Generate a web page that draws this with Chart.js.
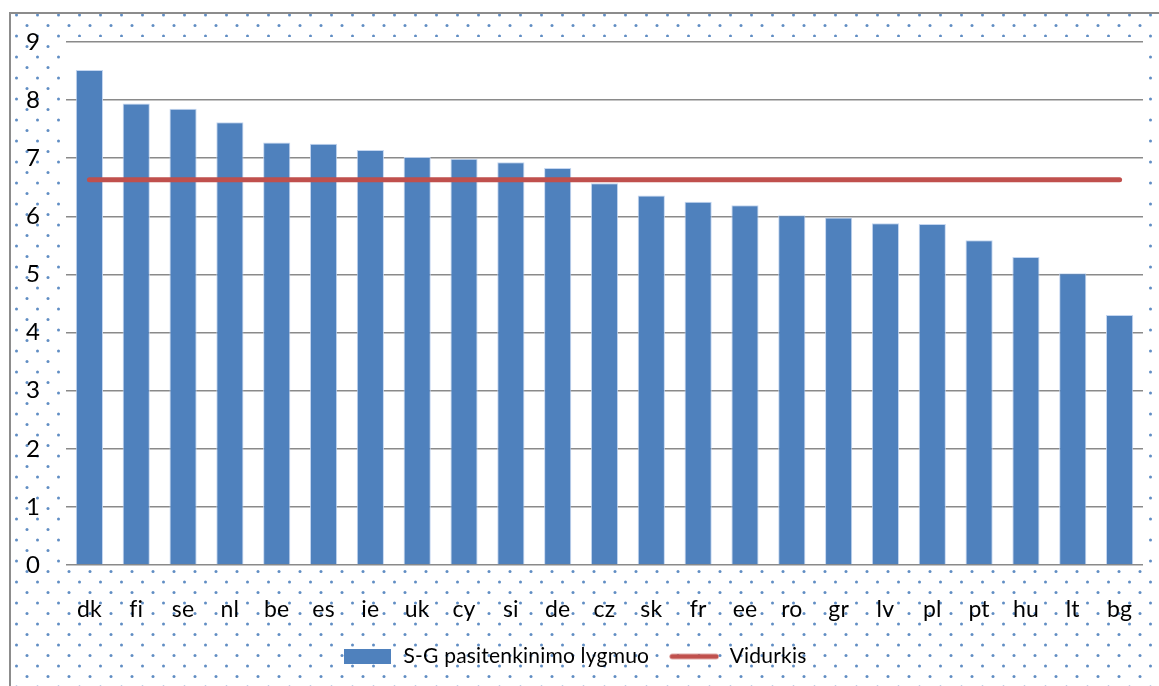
<!DOCTYPE html>
<html>
<head>
<meta charset="utf-8">
<script src="https://cdn.jsdelivr.net/npm/chart.js@4/dist/chart.umd.min.js"></script>
<style>
  html, body { margin: 0; padding: 0; background: #fff; }
  #wrap { width: 1159px; height: 686px; }
</style>
</head>
<body>
<div id="wrap"><canvas id="satChart" width="1159" height="686"></canvas></div>
<script>
// chart data
const countries = ['dk', 'fi', 'se', 'nl', 'be', 'es', 'ie', 'uk', 'cy', 'si', 'de', 'cz',
    'sk', 'fr', 'ee', 'ro', 'gr', 'lv', 'pl', 'pt', 'hu', 'lt', 'bg'];
const satisfaction = [8.52, 7.94, 7.85, 7.62, 7.27, 7.25, 7.14, 7.02, 6.99, 6.93, 6.83, 6.57,
    6.36, 6.25, 6.19, 6.02, 5.98, 5.88, 5.87, 5.59, 5.30, 5.02, 4.30];
const average = [6.63, 6.63, 6.63, 6.63, 6.63, 6.63, 6.63, 6.63, 6.63, 6.63, 6.63, 6.63,
    6.63, 6.63, 6.63, 6.63, 6.63, 6.63, 6.63, 6.63, 6.63, 6.63, 6.63];
const seriesNames = ['S-G pasitenkinimo lygmuo', 'Vidurkis'];
const yMin = 0, yMax = 9, yStep = 1;

const blue = '#4F81BD';
const red = '#C0504D';
const font = { family: 'Lato, "Open Sans", sans-serif', size: 21 };
const xFont = { family: 'Lato, "Open Sans", sans-serif', size: 23 };
const yFont = { family: 'Lato, "Open Sans", sans-serif', size: 24 };

// legend swatches
function swatch(w, h, paint) {
    const c = document.createElement('canvas');
    c.width = w; c.height = h;
    paint(c.getContext('2d'));
    return c;
}
const barSwatch = swatch(47, 15, g => { g.fillStyle = blue; g.fillRect(0, 0, 47, 15); });
const lineSwatch = swatch(50, 14, g => {
    g.strokeStyle = red; g.lineWidth = 5; g.lineCap = 'round';
    g.beginPath(); g.moveTo(3, 7); g.lineTo(47, 7); g.stroke();
});

// dotted background pattern
function dotPattern(ctx) {
    const tile = document.createElement('canvas');
    tile.width = 21; tile.height = 21;
    const g = tile.getContext('2d');
    g.fillStyle = 'rgba(79,129,189,0.9)';
    [[16.5, 15], [6, 4.5]].forEach(p => {
        g.beginPath(); g.arc(p[0], p[1], 1.5, 0, Math.PI * 2); g.fill();
    });
    return ctx.createPattern(tile, 'repeat');
}

const background = {
    id: 'background',
    beforeDraw(chart) {
        const ctx = chart.ctx, a = chart.chartArea;
        ctx.save();
        ctx.fillStyle = '#fff';
        ctx.fillRect(0, 0, chart.width, chart.height);
        ctx.fillStyle = dotPattern(ctx);
        ctx.fillRect(11, 14, chart.width, chart.height);
        ctx.strokeStyle = '#8c8c8c';
        ctx.lineWidth = 2;
        ctx.beginPath();
        ctx.moveTo(10, chart.height + 5); ctx.lineTo(10, 13); ctx.lineTo(chart.width + 5, 13);
        ctx.stroke();
        ctx.fillStyle = '#fff';
        ctx.fillRect(a.left - 4, a.top - 5, a.right - a.left + 6, a.bottom - a.top + 5);
        ctx.restore();
        // keep "fi" as two letters (no ligature)
        ctx.letterSpacing = '0.2px';
    }
};

const ctx = document.getElementById('satChart').getContext('2d');
const satChart = new Chart(ctx, {
    type: 'bar',
    data: {
        labels: countries,
        datasets: [{
            label: seriesNames[0],
            data: satisfaction,
            backgroundColor: blue,
            borderColor: 'rgba(190,210,238,0.9)',
            borderWidth: 1,
            barPercentage: 0.58,
            categoryPercentage: 1,
            order: 2
        }, {
            type: 'line',
            label: seriesNames[1],
            data: average,
            borderColor: red,
            backgroundColor: red,
            borderWidth: 5,
            borderCapStyle: 'round',
            pointRadius: 0,
            fill: false,
            order: 1
        }]
    },
    options: {
        responsive: false,
        animation: false,
        layout: { padding: { left: 0, right: 16, top: 42, bottom: 9 } },
        scales: {
            x: {
                grid: { display: false },
                border: { display: false },
                ticks: { color: '#000', font: xFont, padding: 23, maxRotation: 0 },
                afterFit(s) { s.height = 61; }
            },
            y: {
                min: yMin, max: yMax,
                grid: { color: '#8a8a8a', lineWidth: 1.5, drawTicks: false },
                border: { display: false },
                ticks: { stepSize: yStep, color: '#000', font: yFont, padding: 26 },
                afterFit(s) { s.width = 66; }
            }
        },
        plugins: {
            tooltip: { enabled: false },
            legend: {
                position: 'bottom',
                labels: {
                    color: '#000',
                    font: font,
                    usePointStyle: true,
                    pointStyleWidth: 50,
                    padding: 20,
                    generateLabels(chart) {
                        return chart.data.datasets.map((d, i) => ({
                            text: d.label,
                            pointStyle: i === 0 ? barSwatch : lineSwatch,
                            fillStyle: d.backgroundColor,
                            strokeStyle: d.borderColor,
                            lineWidth: 0,
                            hidden: false,
                            datasetIndex: i
                        }));
                    }
                }
            }
        }
    },
    plugins: [background]
});
</script>
</body>
</html>
